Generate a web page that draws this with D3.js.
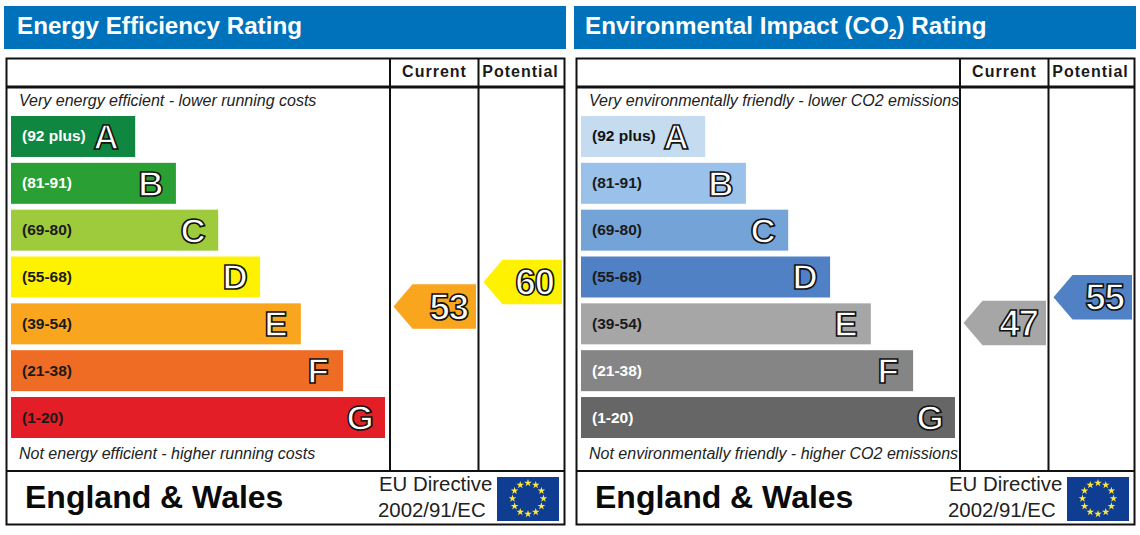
<!DOCTYPE html>
<html>
<head>
<meta charset="utf-8">
<title>Energy Performance Ratings</title>
<script src="https://d3js.org/d3.v7.min.js"></script>
<style>
    html, body { margin: 0; padding: 0; background: #fff; }
    svg { display: block; }
    text { font-family: "Liberation Sans", Arial, sans-serif; }
</style>
</head>
<body>
<div id="chart"></div>
<script>
// Rating bands
var bandLetters = ["A", "B", "C", "D", "E", "F", "G"];
var bandRanges = ["(92 plus)", "(81-91)", "(69-80)", "(55-68)", "(39-54)", "(21-38)", "(1-20)"];
var bandLengths = [33.2, 44.1, 55.4, 66.6, 77.5, 88.8, 100];
var bandThresholds = [21, 39, 55, 69, 81, 92];

// Ratings
var energyCurrent = 53;
var energyPotential = 60;
var co2Current = 47;
var co2Potential = 55;

// Colours
var energyColors = ["#0f8741", "#2a9f34", "#9dcb3c", "#fff200", "#f9a51e", "#ee6c24", "#e31e26"];
var co2Colors = ["#c5dbf0", "#9ac1ea", "#74a3d8", "#4f81c4", "#a6a6a6", "#858585", "#666666"];
var energyRangeText = ["#fff", "#fff", "#1a1a1a", "#1a1a1a", "#1a1a1a", "#1a1a1a", "#1a1a1a"];
var co2RangeText = ["#111", "#1a1a1a", "#1a1a1a", "#1a1a1a", "#1a1a1a", "#fff", "#fff"];

var columnNames = ["Current", "Potential"];

var width = 1140, height = 535;

var svg = d3.select("#chart").append("svg")
    .attr("width", width)
    .attr("height", height);

// Scales
var x = d3.scaleLinear().domain([0, 100]).range([0, 374]);
var y = d3.scaleBand().domain(bandLetters).range([116, 438]).paddingInner(0.125);
var ratingY = d3.scaleLinear().domain([47, 53, 55, 60]).range([323, 306.5, 297.3, 282]);

drawPanel({
    offset: 0,
    titleX: 17,
    colors: energyColors,
    rangeText: energyRangeText,
    top: "Very energy efficient - lower running costs",
    bottom: "Not energy efficient - higher running costs",
    current: energyCurrent,
    potential: energyPotential
});

drawPanel({
    offset: 570,
    titleX: 15,
    colors: co2Colors,
    rangeText: co2RangeText,
    top: "Very environmentally friendly - lower CO2 emissions",
    bottom: "Not environmentally friendly - higher CO2 emissions",
    current: co2Current,
    potential: co2Potential
});

function drawPanel(p) {
    var g = svg.append("g").attr("transform", "translate(" + p.offset + ",0)");

    // Blue title strip
    g.append("rect")
        .attr("x", 4).attr("y", 6)
        .attr("width", 562).attr("height", 43)
        .attr("fill", "#0072bc");

    var title = g.append("text")
        .attr("x", p.titleX).attr("y", 34)
        .attr("fill", "#fff")
        .style("font-size", "24.2px")
        .style("font-weight", "bold");
    if (p.offset === 0) {
        title.text("Energy Efficiency Rating");
    } else {
        title.append("tspan").text("Environmental Impact (CO");
        title.append("tspan").attr("dy", 5).style("font-size", "14px").text("2");
        title.append("tspan").attr("dy", -5).text(") Rating");
    }

    // Frame and rules
    g.append("rect")
        .attr("x", 6.5).attr("y", 58.5)
        .attr("width", 558).attr("height", 466)
        .attr("fill", "none").attr("stroke", "#111").attr("stroke-width", 2);

    var rules = [
        [6, 87, 565, 87, 3],
        [6, 471, 565, 471, 2],
        [390, 58, 390, 471, 2],
        [478.5, 58, 478.5, 471, 2]
    ];
    g.selectAll(".rule").data(rules).enter().append("line")
        .attr("class", "rule")
        .attr("x1", function(d) { return d[0]; })
        .attr("y1", function(d) { return d[1]; })
        .attr("x2", function(d) { return d[2]; })
        .attr("y2", function(d) { return d[3]; })
        .attr("stroke", "#111")
        .attr("stroke-width", function(d) { return d[4]; });

    // Column headers
    g.selectAll(".col").data(columnNames).enter().append("text")
        .attr("class", "col")
        .attr("x", function(d, i) { return i === 0 ? 434.5 : 520.5; })
        .attr("y", 77)
        .attr("text-anchor", "middle")
        .attr("fill", "#1a1a1a")
        .style("font-size", "16px")
        .style("font-weight", "bold")
        .style("letter-spacing", "1px")
        .text(function(d) { return d; });

    // Top and bottom captions
    g.append("text").attr("x", 19).attr("y", 105.5)
        .attr("fill", "#222")
        .style("font-size", "16px").style("font-style", "italic")
        .text(p.top);
    g.append("text").attr("x", 19).attr("y", 459)
        .attr("fill", "#222")
        .style("font-size", "16px").style("font-style", "italic")
        .text(p.bottom);

    // Bars
    var bands = g.selectAll(".band").data(bandLetters).enter().append("g")
        .attr("class", "band")
        .attr("transform", function(d) { return "translate(11," + y(d) + ")"; });

    bands.append("rect")
        .attr("width", function(d, i) { return x(bandLengths[i]); })
        .attr("height", y.bandwidth())
        .attr("fill", function(d, i) { return p.colors[i]; });

    bands.append("text")
        .attr("x", 11)
        .attr("y", y.bandwidth() / 2 + 5)
        .attr("fill", function(d, i) { return p.rangeText[i]; })
        .style("font-size", "15.5px")
        .style("font-weight", "bold")
        .text(function(d, i) { return bandRanges[i]; });

    bands.append("text")
        .attr("x", function(d, i) { return x(bandLengths[i]) - (i === 0 ? 29 : 25); })
        .attr("y", y.bandwidth() / 2 + 12.5)
        .attr("text-anchor", "middle")
        .attr("fill", "#fff")
        .attr("stroke", "#111")
        .attr("stroke-width", 1.6)
        .style("font-size", "35px")
        .style("font-weight", "bold")
        .text(function(d) { return d; });

    // Rating arrows
    drawArrow(g, p, p.current, 393.5, 476);
    drawArrow(g, p, p.potential, 483.5, 562);

    // Footer
    g.append("text").attr("x", 25).attr("y", 508)
        .attr("fill", "#0a0a0a")
        .style("font-size", "32px").style("font-weight", "bold")
        .text("England & Wales");
    g.append("text").attr("x", 379).attr("y", 491)
        .attr("fill", "#222").style("font-size", "20.4px")
        .text("EU Directive");
    g.append("text").attr("x", 378).attr("y", 517)
        .attr("fill", "#222").style("font-size", "20.4px")
        .text("2002/91/EC");

    drawFlag(g);
}

function drawArrow(g, p, rating, tipX, endX) {
    var cy = ratingY(rating);
    var half = 22.3;
    var color = d3.scaleThreshold().domain(bandThresholds).range(p.colors.slice().reverse());

    var path = d3.path();
    path.moveTo(tipX, cy);
    path.lineTo(tipX + 19, cy - half);
    path.lineTo(endX, cy - half);
    path.lineTo(endX, cy + half);
    path.lineTo(tipX + 19, cy + half);
    path.closePath();

    g.append("path").attr("d", path.toString()).attr("fill", color(rating));

    g.append("text")
        .attr("x", endX - 8.5)
        .attr("y", cy + 13)
        .attr("text-anchor", "end")
        .attr("fill", "#fff")
        .attr("stroke", "#111")
        .attr("stroke-width", 1.6)
        .style("font-size", "37px")
        .style("font-weight", "bold")
        .style("letter-spacing", "-1.5px")
        .text(rating);
}

function drawFlag(g) {
    var flag = g.append("g").attr("transform", "translate(497,477)");
    flag.append("rect").attr("width", 62).attr("height", 44).attr("fill", "#0f3d91");

    var star = d3.symbol().type(d3.symbolStar).size(18);
    flag.selectAll("path").data(d3.range(12)).enter().append("path")
        .attr("d", star())
        .attr("fill", "#ffe83a")
        .attr("transform", function(d) {
            var a = d / 12 * 2 * Math.PI;
            return "translate(" + (31 + 15.5 * Math.sin(a)) + "," + (21.5 - 15.5 * Math.cos(a)) + ")";
        });
}
</script>
</body>
</html>
